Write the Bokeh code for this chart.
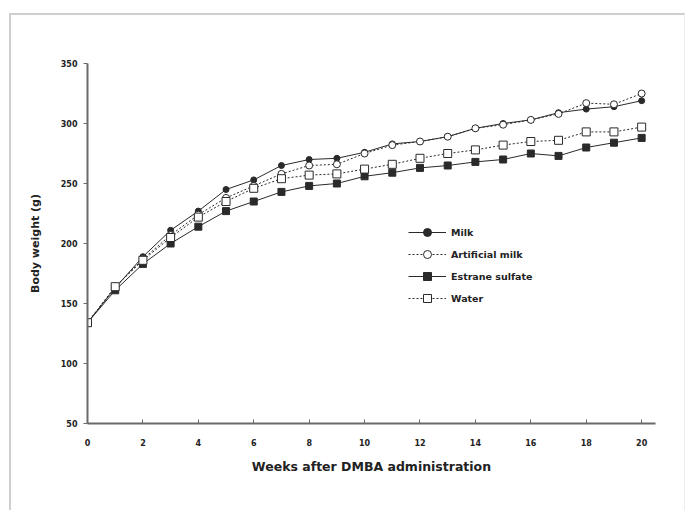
from bokeh.plotting import figure
from bokeh.models import Legend, LegendItem, FixedTicker
from bokeh.embed import file_html
from bokeh.resources import INLINE

weeks = list(range(0, 21))
milk = [134, 163, 189, 211, 227, 245, 253, 265, 270, 271, 276, 283, 285, 289, 296, 300, 303, 309, 312, 314, 319]
artificial_milk = [134, 164, 187, 207, 224, 238, 248, 258, 265, 266, 275, 282, 285, 289, 296, 299, 303, 308, 317, 316, 325]
estrane_sulfate = [134, 161, 183, 200, 214, 227, 235, 243, 248, 250, 256, 259, 263, 265, 268, 270, 275, 273, 280, 284, 288]
water = [134, 164, 186, 205, 222, 235, 246, 254, 257, 258, 262, 266, 271, 275, 278, 282, 285, 286, 293, 293, 297]

x_ticks = list(range(0, 21, 2))
y_ticks = list(range(50, 351, 50))

p = figure(width=676, height=497, x_range=(0, 20.5), y_range=(50, 350),
           output_backend="svg", toolbar_location=None,
           min_border_left=76, min_border_right=32, min_border_top=48, min_border_bottom=89)
p.styles = {"margin-left": "9px", "margin-top": "13px",
            "border-left": "2px solid #cfcfcf", "border-top": "2px solid #cfcfcf",
            "border-right": "1px solid #ececec"}
p.outline_line_color = None
p.grid.visible = False

font = "DejaVu Sans"
for ax in (p.xaxis, p.yaxis):
    ax.axis_line_color = "#6a6a6a"
    ax.axis_line_width = 2
    ax.major_tick_line_color = "#6a6a6a"
    ax.minor_tick_line_color = None
    ax.major_label_text_font = font
    ax.major_label_text_font_style = "bold"
    ax.major_label_text_font_size = "8px"
    ax.major_label_text_color = "#222222"
    ax.axis_label_text_font = font
    ax.axis_label_text_font_style = "bold"
    ax.axis_label_text_color = "#222222"

p.xaxis.ticker = FixedTicker(ticks=x_ticks)
p.yaxis.ticker = FixedTicker(ticks=y_ticks)
p.xaxis.major_tick_in = 4
p.xaxis.major_tick_out = 0
p.yaxis.major_tick_in = 0
p.yaxis.major_tick_out = 4
p.xaxis.major_label_standoff = 15
p.yaxis.major_label_standoff = 6
p.xaxis.axis_label = "Weeks after DMBA administration"
p.yaxis.axis_label = "Body weight (g)"
p.xaxis.axis_label_text_font_size = "12.5px"
p.yaxis.axis_label_text_font_size = "11px"
p.xaxis.axis_label_standoff = 10
p.yaxis.axis_label_standoff = 16

col = "#2a2a2a"
series = [
    ("Milk", milk, "solid", "circle", col, 6),
    ("Artificial milk", artificial_milk, "2 2", "circle", "white", 7),
    ("Estrane sulfate", estrane_sulfate, "solid", "square", col, 7),
    ("Water", water, "2 2", "square", "white", 8),
]
items = []
for name, ys, dash, marker, fill, size in series:
    ln = p.line(weeks, ys, line_color=col, line_width=1, line_dash=dash)
    sc = p.scatter(weeks, ys, marker=marker, size=size, fill_color=fill, line_color=col, line_width=1)
    items.append(LegendItem(label=name, renderers=[ln, sc]))

legend = Legend(items=items, location=(321, 115), glyph_width=38, glyph_height=20,
                label_height=20, spacing=2, padding=0, margin=0,
                background_fill_alpha=0, border_line_color=None,
                label_text_font=font, label_text_font_style="bold",
                label_text_font_size="9.5px", label_text_color="#222222", label_standoff=5)
p.add_layout(legend)

open("out.html", "w").write(file_html(p, INLINE))
